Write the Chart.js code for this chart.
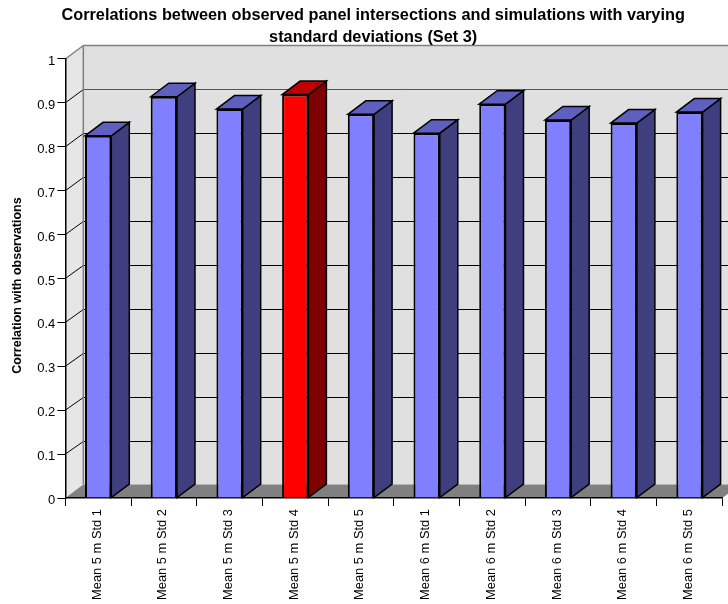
<!DOCTYPE html>
<html>
<head>
<meta charset="utf-8">
<title>Correlations (Set 3)</title>
<script src="https://cdn.jsdelivr.net/npm/chart.js@4"></script>
<style>
  html, body { margin: 0; padding: 0; background: #fff; }
  #wrap { width: 728px; height: 604px; }
</style>
</head>
<body>
<div id="wrap"><canvas id="chart" width="728" height="604"></canvas></div>
<script>
const categories = ['Mean 5 m Std 1', 'Mean 5 m Std 2', 'Mean 5 m Std 3', 'Mean 5 m Std 4', 'Mean 5 m Std 5',
                    'Mean 6 m Std 1', 'Mean 6 m Std 2', 'Mean 6 m Std 3', 'Mean 6 m Std 4', 'Mean 6 m Std 5'];
const correlations = [0.825, 0.914, 0.886, 0.919, 0.874, 0.831, 0.897, 0.861, 0.854, 0.879];
const yTickLabels = ['0', '0.1', '0.2', '0.3', '0.4', '0.5', '0.6', '0.7', '0.8', '0.9', '1'];
const highlighted = 'Mean 5 m Std 4';
const yAxisTitle = 'Correlation with observations';

const FONT = '"Liberation Sans", Arial, sans-serif';
const DEPTH_X = 18;     // fake 3D depth of the walls and bars
const DEPTH_Y = 13.5;

const isHot = i => categories[i] === highlighted;
const snap = v => Math.round(v) + 0.5;

function poly(ctx, pts, fill, stroke, lw) {
    ctx.beginPath();
    pts.forEach((p, i) => i ? ctx.lineTo(p[0], p[1]) : ctx.moveTo(p[0], p[1]));
    ctx.closePath();
    if (fill) { ctx.fillStyle = fill; ctx.fill(); }
    if (stroke) { ctx.strokeStyle = stroke; ctx.lineWidth = lw; ctx.lineJoin = 'miter'; ctx.stroke(); }
}

function line(ctx, x1, y1, x2, y2, color, lw) {
    ctx.beginPath();
    ctx.moveTo(x1, y1);
    ctx.lineTo(x2, y2);
    ctx.strokeStyle = color;
    ctx.lineWidth = lw;
    ctx.stroke();
}

// back wall, side wall, floor and the grid running over them
const walls = {
    id: 'walls',
    beforeDraw(chart) {
        const { ctx, scales: { x, y } } = chart;
        const l = x.left, r = x.right;
        const y0 = y.getPixelForValue(0), y1 = y.getPixelForValue(1);
        ctx.save();
        poly(ctx, [[l + DEPTH_X, y1 - DEPTH_Y], [r + DEPTH_X, y1 - DEPTH_Y], [r + DEPTH_X, y0 - DEPTH_Y], [l + DEPTH_X, y0 - DEPTH_Y]], '#e0e0e0');
        poly(ctx, [[l, y1], [l + DEPTH_X, y1 - DEPTH_Y], [l + DEPTH_X, y0 - DEPTH_Y], [l, y0]], '#e6e6e6');
        poly(ctx, [[l, y0], [l + DEPTH_X, y0 - DEPTH_Y], [r + DEPTH_X, y0 - DEPTH_Y], [r, y0]], '#808080');

        // horizontal grid on the back wall, diagonals on the side wall
        y.ticks.forEach(t => {
            if (t.value === 0 || t.value === 1) return;
            const py = y.getPixelForValue(t.value);
            const back = snap(py - DEPTH_Y);
            line(ctx, l, py, l + DEPTH_X, back, '#000', 1);
            line(ctx, l + DEPTH_X, back, r + DEPTH_X, back, t.value > 0.85 ? '#555' : '#000', 1);
        });

        // wall outline
        line(ctx, l, y1, l + DEPTH_X, y1 - DEPTH_Y, '#808080', 1.5);
        line(ctx, l + DEPTH_X, y1 - DEPTH_Y, r + DEPTH_X, y1 - DEPTH_Y, '#808080', 1.5);
        line(ctx, l + DEPTH_X, y1 - DEPTH_Y, l + DEPTH_X, y0 - DEPTH_Y, '#808080', 1.5);
        ctx.restore();
    },
    // side and top faces of each bar, the front face comes from the library
    beforeDatasetsDraw(chart) {
        const { ctx } = chart;
        const bars = chart.getDatasetMeta(0).data;
        ctx.save();
        bars.forEach((el, i) => {
            const right = el.x + el.width / 2, left = el.x - el.width / 2;
            const side = isHot(i) ? '#7f0000' : '#3f3f7f';
            const top = isHot(i) ? '#bf0000' : '#5f5fbf';
            poly(ctx, [[right, el.y], [right + DEPTH_X, el.y - DEPTH_Y], [right + DEPTH_X, el.base - DEPTH_Y], [right, el.base]], side, '#000', 1.5);
            poly(ctx, [[left, el.y], [left + DEPTH_X, el.y - DEPTH_Y], [right + DEPTH_X, el.y - DEPTH_Y], [right, el.y]], top, '#000', 1.5);
        });
        ctx.restore();
    },
    // the axis title sits lower than the scale's own centred title would
    afterDraw(chart) {
        const { ctx } = chart;
        ctx.save();
        ctx.translate(17.5, 285.5);
        ctx.rotate(-Math.PI / 2);
        ctx.font = `bold 12.5px ${FONT}`;
        ctx.fillStyle = '#000';
        ctx.textAlign = 'center';
        ctx.textBaseline = 'middle';
        ctx.fillText(yAxisTitle, 0, 0);
        ctx.restore();
    }
};

new Chart(document.getElementById('chart'), {
    type: 'bar',
    data: {
        labels: categories,
        datasets: [{
            data: correlations,
            backgroundColor: categories.map((c, i) => isHot(i) ? '#ff0000' : '#8080ff'),
            borderColor: '#000',
            borderWidth: 2,
            barPercentage: 1,
            categoryPercentage: 0.4,
        }],
    },
    options: {
        responsive: false,
        animation: false,
        layout: { padding: { left: 24, right: 5.7, top: 0, bottom: 0 } },
        plugins: {
            legend: { display: false },
            tooltip: { enabled: false },
            title: {
                display: true,
                text: ['Correlations between observed panel intersections and simulations with varying',
                       'standard deviations (Set 3)'],
                color: '#000',
                font: { family: FONT, size: 16.3, weight: 'bold', lineHeight: 1.34 },
                padding: { top: 5, bottom: 10.3 },
            },
        },
        scales: {
            x: {
                grid: { offset: true, drawOnChartArea: false, drawTicks: true, tickLength: 8, color: '#000' },
                border: { color: '#000', width: 1.5 },
                ticks: {
                    autoSkip: false, minRotation: 90, maxRotation: 90, padding: 3, labelOffset: -1,
                    color: '#000', font: { family: FONT, size: 12.9 },
                },
                afterFit(scale) { scale.height = 106; },
            },
            y: {
                min: 0,
                max: 1,
                grid: { drawOnChartArea: false, drawTicks: true, tickLength: 8, color: '#000' },
                border: { color: '#000', width: 1.5 },
                ticks: {
                    stepSize: 0.1, padding: 2, color: '#000',
                    font: { family: FONT, size: 13, lineHeight: '5px' },
                    // blank first line pushes the label a little below its tick
                    callback: (v, i) => ['', yTickLabels[i]],
                },
                afterFit(scale) { scale.width = 41.3; },
            },
        },
    },
    plugins: [walls],
});
</script>
</body>
</html>
